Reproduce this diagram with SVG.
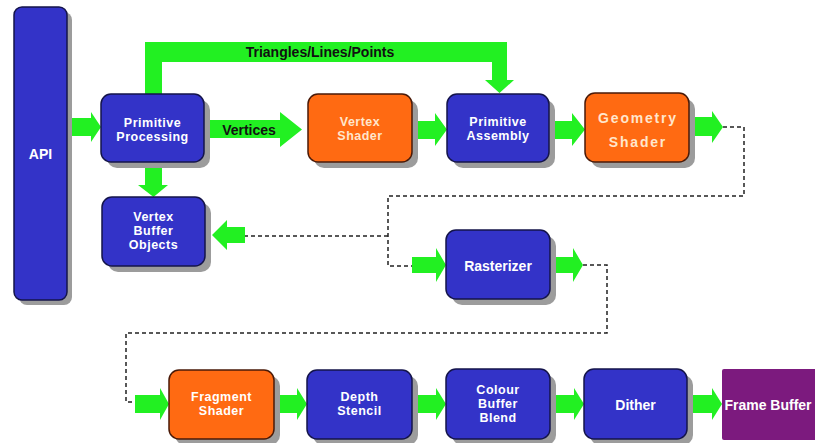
<svg xmlns="http://www.w3.org/2000/svg" width="815" height="443" viewBox="0 0 815 443">
<style>
.sh{fill:#9c9c9c}
.blue{fill:#3333c8;stroke:#14144a;stroke-width:1.5}
.orange{fill:#ff6a12;stroke:#4a1a08;stroke-width:1.5}
.purple{fill:#7c1a7e}
.g{fill:#22f022}
.t{font-family:"Liberation Sans",Arial,sans-serif;font-weight:bold;font-size:14px;fill:#ffffff;text-anchor:middle}
.m{font-size:12.5px;letter-spacing:0.5px}
.tp{fill:#ffe6cc}
.lbl{font-family:"Liberation Sans",Arial,sans-serif;font-weight:bold;font-size:14px;fill:#111;text-anchor:middle}
.d{fill:none;stroke:#222;stroke-width:1.5;stroke-dasharray:4 3}
</style>
<rect width="815" height="443" fill="#ffffff"/>
<g id="connectors">
<path class="d" d="M723,127 H744 V196 H388 V266 H412"/>
<path class="d" d="M388,236 H245"/>
<path class="d" d="M583,265 H607 V333 H126 V402 H135"/>
<polygon class="g" points="67,118 91,118 91,112 101,127 91,142 91,136 67,136"/>
<polygon class="g" points="204,120 280,120 280,112 302,129.5 280,147 280,138 204,138"/>
<polygon class="g" points="412,121 435,121 435,113 447,129.5 435,146 435,139 412,139"/>
<polygon class="g" points="549,121 572,121 572,113 585,129.5 572,146 572,139 549,139"/>
<polygon class="g" points="689,117 712,117 712,111 723,127 712,143 712,136 689,136"/>
<polygon class="g" points="245,227 227,227 227,220 212,235 227,250 227,243 245,243"/>
<polygon class="g" points="412,257 436,257 436,248 446,265 436,282 436,273 412,273"/>
<polygon class="g" points="550,257 573,257 573,248 583,265 573,282 573,273 550,273"/>
<polygon class="g" points="135,395 160,395 160,388 169,404 160,420 160,413 135,413"/>
<polygon class="g" points="274,395 297,395 297,388 307,404 297,420 297,413 274,413"/>
<polygon class="g" points="412,395 436,395 436,388 446,404 436,420 436,413 412,413"/>
<polygon class="g" points="550,395 574,395 574,388 584,404 574,420 574,413 550,413"/>
<polygon class="g" points="687,395 712,395 712,388 722,404 712,420 712,413 687,413"/>
<polygon class="g" points="145,162 162,162 162,185 168,185 153.5,197 138,185 145,185"/>
<polygon class="g" points="145,94 145,42 507,42 507,80 514,80 499.5,93 485,80 492,80 492,62 162,62 162,94"/>
<text class="lbl" x="320" y="57">Triangles/Lines/Points</text>
<text class="lbl" x="249" y="135">Vertices</text>
</g>
<g id="api">
<rect class="sh" x="19" y="12" width="53" height="293" rx="8"/>
<rect class="blue" x="14" y="7" width="53" height="293" rx="8"/>
<text class="t" x="40.5" y="159">API</text>
</g>
<g id="primitive-processing">
<rect class="sh" x="107" y="100" width="103" height="68" rx="10"/>
<rect class="blue" x="101" y="94" width="103" height="68" rx="10"/>
<text class="t m" x="152.5" y="127">Primitive</text>
<text class="t m" x="152.5" y="141">Processing</text>
</g>
<g id="vertex-shader">
<rect class="sh" x="314" y="100" width="104" height="68" rx="10"/>
<rect class="orange" x="308" y="94" width="104" height="68" rx="10"/>
<text class="t m tp" x="360" y="125.5">Vertex</text>
<text class="t m tp" x="360" y="139.5">Shader</text>
</g>
<g id="primitive-assembly">
<rect class="sh" x="453" y="100" width="102" height="68" rx="10"/>
<rect class="blue" x="447" y="94" width="102" height="68" rx="10"/>
<text class="t m" x="498" y="125.5">Primitive</text>
<text class="t m" x="498" y="139.5">Assembly</text>
</g>
<g id="geometry-shader">
<rect class="sh" x="591" y="99" width="104" height="69" rx="10"/>
<rect class="orange" x="585" y="93" width="104" height="69" rx="10"/>
<text class="t tp" x="638" y="123" style="letter-spacing:1.8px">Geometry</text>
<text class="t tp" x="638" y="147" style="letter-spacing:1.8px">Shader</text>
</g>
<g id="vertex-buffer-objects">
<rect class="sh" x="108" y="203" width="103" height="69" rx="10"/>
<rect class="blue" x="102" y="197" width="103" height="69" rx="10"/>
<text class="t m" x="153.5" y="221">Vertex</text>
<text class="t m" x="153.5" y="235">Buffer</text>
<text class="t m" x="153.5" y="249">Objects</text>
</g>
<g id="rasterizer">
<rect class="sh" x="452" y="236" width="104" height="69" rx="10"/>
<rect class="blue" x="446" y="230" width="104" height="69" rx="10"/>
<text class="t" x="498" y="271">Rasterizer</text>
</g>
<g id="fragment-shader">
<rect class="sh" x="175" y="376" width="105" height="69" rx="10"/>
<rect class="orange" x="169" y="370" width="105" height="69" rx="10"/>
<text class="t m" x="221.5" y="401">Fragment</text>
<text class="t m" x="221.5" y="415">Shader</text>
</g>
<g id="depth-stencil">
<rect class="sh" x="313" y="376" width="105" height="69" rx="10"/>
<rect class="blue" x="307" y="370" width="105" height="69" rx="10"/>
<text class="t m" x="359.5" y="400.5">Depth</text>
<text class="t m" x="359.5" y="414.5">Stencil</text>
</g>
<g id="colour-buffer-blend">
<rect class="sh" x="452" y="375" width="104" height="70" rx="10"/>
<rect class="blue" x="446" y="369" width="104" height="70" rx="10"/>
<text class="t m" x="498" y="393.5">Colour</text>
<text class="t m" x="498" y="407.5">Buffer</text>
<text class="t m" x="498" y="421.5">Blend</text>
</g>
<g id="dither">
<rect class="sh" x="590" y="375" width="103" height="70" rx="10"/>
<rect class="blue" x="584" y="369" width="103" height="70" rx="10"/>
<text class="t" x="635.5" y="410">Dither</text>
</g>
<g id="frame-buffer">
<rect class="purple" x="722" y="369" width="95" height="71" rx="2"/>
<text class="t" x="768" y="410">Frame Buffer</text>
</g>
</svg>
